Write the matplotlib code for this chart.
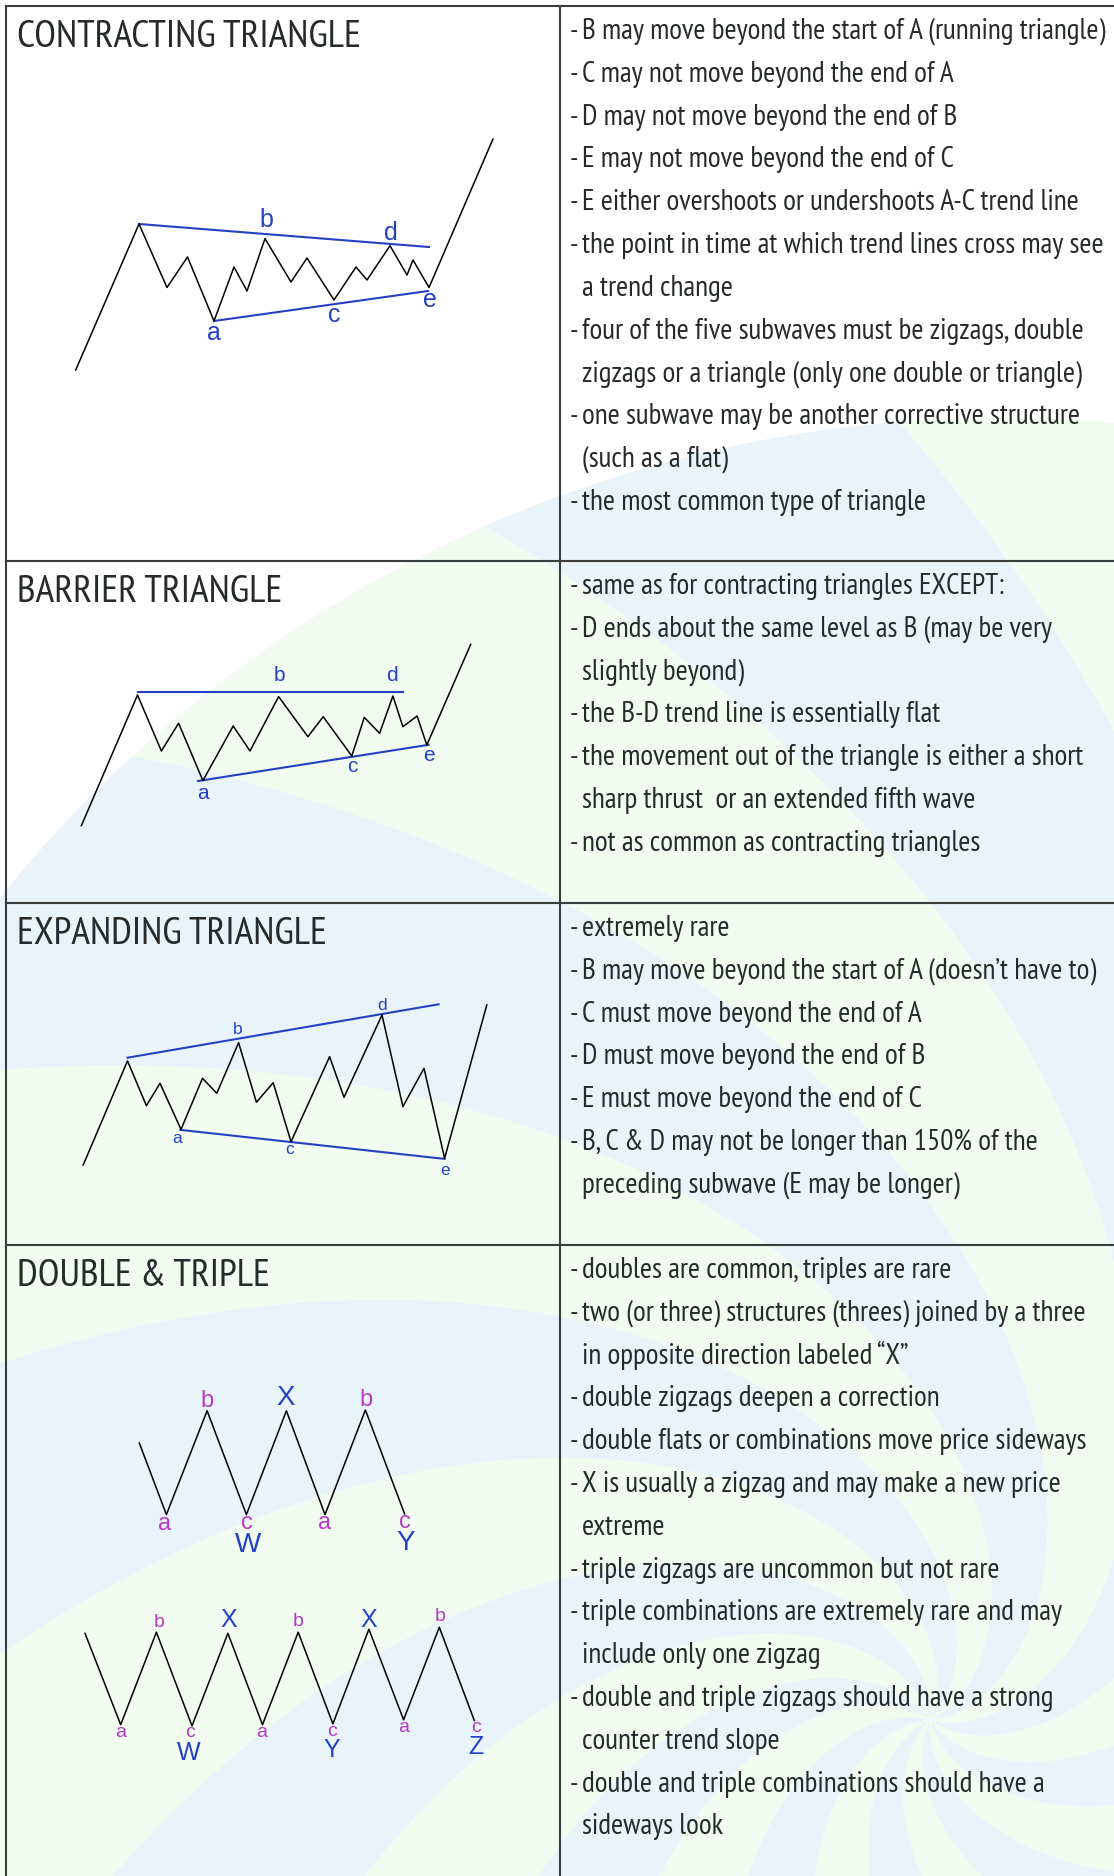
import numpy as np
import matplotlib.pyplot as plt
import matplotlib.font_manager as fm
from matplotlib.patches import Polygon, Circle, Rectangle

W, H = 1114, 1876

# ---------------- data ----------------
titles = ["CONTRACTING TRIANGLE", "BARRIER TRIANGLE", "EXPANDING TRIANGLE", "DOUBLE & TRIPLE"]

notes_contracting = [
    "B may move beyond the start of A (running triangle)",
    "C may not move beyond the end of A",
    "D may not move beyond the end of B",
    "E may not move beyond the end of C",
    "E either overshoots or undershoots A-C trend line",
    "the point in time at which trend lines cross may see\na trend change",
    "four of the five subwaves must be zigzags, double\nzigzags or a triangle (only one double or triangle)",
    "one subwave may be another corrective structure\n(such as a flat)",
    "the most common type of triangle",
]
notes_barrier = [
    "same as for contracting triangles EXCEPT:",
    "D ends about the same level as B (may be very\nslightly beyond)",
    "the B-D trend line is essentially flat",
    "the movement out of the triangle is either a short\nsharp thrust  or an extended fifth wave",
    "not as common as contracting triangles",
]
notes_expanding = [
    "extremely rare",
    "B may move beyond the start of A (doesn\u2019t have to)",
    "C must move beyond the end of A",
    "D must move beyond the end of B",
    "E must move beyond the end of C",
    "B, C & D may not be longer than 150% of the\npreceding subwave (E may be longer)",
]
notes_double = [
    "doubles are common, triples are rare",
    "two (or three) structures (threes) joined by a three\nin opposite direction labeled \u201cX\u201d",
    "double zigzags deepen a correction",
    "double flats or combinations move price sideways",
    "X is usually a zigzag and may make a new price\nextreme",
    "triple zigzags are uncommon but not rare",
    "triple combinations are extremely rare and may\ninclude only one zigzag",
    "double and triple zigzags should have a strong\ncounter trend slope",
    "double and triple combinations should have a\nsideways look",
]

# contracting triangle wave (pixel units of the sheet)
ct_x = [75.7, 139, 167, 187.5, 214, 234, 247, 265, 291, 307, 334, 356, 367, 390, 407, 413, 429, 493]
ct_y = [370, 224, 287.5, 257, 321, 267, 291, 238.6, 282, 258, 300, 267, 280, 245.7, 275, 260, 287.5, 139]
ct_upper_x, ct_upper_y = [139, 429], [224, 247]
ct_lower_x, ct_lower_y = [214, 428], [321, 291]
ct_lab = ["a", "b", "c", "d", "e"]
ct_lab_x = [214, 266, 334, 391, 430]
ct_lab_y = [333, 220, 315, 233, 300]

# barrier triangle wave
bt_x = [81.4, 137.5, 161.4, 178.6, 202.9, 233.2, 250, 278.6, 307.9, 323.2, 351.8, 364.3, 379.6, 392.9, 402.9, 417.1, 426.8, 470.7]
bt_y = [825.6, 695.0, 751.0, 723.3, 780.6, 726.0, 751.0, 696.6, 736.7, 716.7, 756.0, 717.4, 733.3, 696.0, 726.7, 716.0, 745.0, 644.4]
bt_upper_x, bt_upper_y = [137.5, 402.9], [692.5, 692.5]
bt_lower_x, bt_lower_y = [198, 428.6], [781, 744.8]
bt_lab = ["a", "b", "c", "d", "e"]
bt_lab_x = [202.5, 279.6, 352.5, 392, 428.6]
bt_lab_y = [793.3, 675.7, 766, 675.7, 755.1]

# expanding triangle wave
et_x = [83.2, 127.5, 146.4, 160, 181, 202.5, 216.8, 238.6, 256.4, 273.2, 291, 329.6, 344, 382, 402.9, 424, 444.6, 486.8]
et_y = [1165.0, 1060.9, 1105.7, 1083.3, 1129.4, 1078.3, 1093.3, 1042.7, 1102.3, 1082.7, 1141.7, 1056.7, 1097.3, 1015.0, 1106.6, 1068.3, 1158.3, 1004.9]
et_upper_x, et_upper_y = [127.5, 438.6], [1057.7, 1004.3]
et_lower_x, et_lower_y = [180.4, 444.6], [1129.9, 1158.9]
et_lab = ["a", "b", "c", "d", "e"]
et_lab_x = [176.8, 237.5, 290, 382, 444.6]
et_lab_y = [1138.3, 1029.1, 1150, 1005.8, 1170.1]

# double zigzag (W-X-Y)
dz_x = [139.3, 166.4, 207.1, 246.4, 286.4, 325, 365.4, 404.6]
dz_y = [1443.0, 1514.6, 1410.8, 1514.6, 1410.8, 1514.6, 1410.0, 1513.9]
dz_sub = ["a", "b", "c", "a", "b", "c"]
dz_sub_x = [164.3, 207, 247, 324.3, 366, 404.6]
dz_sub_y = [1523.9, 1401.2, 1522.6, 1522.6, 1399.9, 1521.8]
dz_main = ["W", "X", "Y"]
dz_main_x = [248, 285.7, 405.4]
dz_main_y = [1544.7, 1397.9, 1542.8]

# triple zigzag (W-X-Y-X-Z)
tz_x = [85, 120.7, 156.4, 192, 227.9, 262.5, 298.2, 332.9, 368.9, 403.6, 439.3, 474.3]
tz_y = [1633.3, 1724.7, 1632.2, 1725.9, 1633.3, 1724.7, 1632.2, 1723.9, 1629.2, 1719.8, 1627.3, 1720.5]
tz_sub = ["a", "b", "c", "a", "b", "c", "a", "b", "c"]
tz_sub_x = [120.7, 159, 190, 261.4, 298.2, 332, 403.6, 440, 476]
tz_sub_y = [1732.9, 1622.5, 1732.9, 1732.9, 1621.4, 1731.8, 1727.9, 1616.8, 1727.3]
tz_main = ["W", "X", "Y", "X", "Z"]
tz_main_x = [189, 228.6, 332, 368.6, 476]
tz_main_y = [1752.8, 1620.2, 1749.8, 1620.2, 1747.2]

# ---------------- style ----------------
TXT = "#262a2a"
GRID = "#3a3d3d"
BLUE = "#2441c4"
MAG = "#b63ac4"
BG_BLUE = "#e8f4fa"
BG_GREEN = "#f1fbf0"
ARIAL = ["Liberation Sans", "DejaVu Sans"]


def narrow_font():
    # look for a condensed sans among the installed fonts
    prefs = ["PT Sans", "Fira Sans", "Roboto", "Open Sans", "Noto Sans", "DejaVu Sans", "Liberation Sans", "Ubuntu"]
    best = None
    for f in fm.fontManager.ttflist:
        st = str(f.stretch).lower()
        name = f.name
        cond = ("condensed" in st or "narrow" in st or "Condensed" in name or "Narrow" in name
                or "condensed" in f.fname.lower() or "narrow" in f.fname.lower())
        if not cond or f.style != "normal":
            continue
        try:
            wt = int(f.weight)
        except ValueError:
            wt = {"normal": 400, "regular": 400, "book": 400}.get(str(f.weight).lower(), 700)
        if wt != 400:
            continue
        low = f.fname.lower()
        if "extra" in st or "ultra" in st or "extracondensed" in low or "semicondensed" in low or "semi" in st:
            rank2 = 1
        else:
            rank2 = 0
        rank = len(prefs)
        for i, p in enumerate(prefs):
            if name.startswith(p):
                rank = i
                break
        key = (rank, rank2, f.fname)
        if best is None or key < best[0]:
            best = (key, f.fname)
    if best is None:
        return fm.FontProperties(family="DejaVu Sans")
    return fm.FontProperties(fname=best[1])


NARROW = narrow_font()

fig = plt.figure(figsize=(W / 100, H / 100), dpi=100)
ax = fig.add_axes([0, 0, 1, 1])
ax.set_xlim(0, W)
ax.set_ylim(H, 0)
ax.axis("off")
renderer = fig.canvas.get_renderer()


def fit_size(s, target_px, max_pt):
    t = ax.text(0, 0, s, fontproperties=NARROW, fontsize=20)
    w = t.get_window_extent(renderer).width
    t.remove()
    return min(max_pt, 20 * target_px / w)


NOTE_PT = fit_size(notes_contracting[0], 521, 21.5)
TITLE_PT = fit_size(titles[0], 344, 29.5)

# background: swirl of pale blue / green arms inside a large disc
ax.add_patch(Rectangle((0, 0), W, H, color="white", zorder=0))
clip = Circle((1000, 1700), 1282, transform=ax.transData)
cx, cy, twist, r0, nsec, phase = 930, 1720, 0.9, 120, 18, 16
r = np.geomspace(1, 1600, 500)
turn = twist * np.log(1 + r / r0)
for i in range(nsec):
    t0 = np.radians(phase + 360 / nsec * i) - turn
    t1 = np.radians(phase + 360 / nsec * (i + 1)) - turn
    p0 = np.c_[cx + r * np.cos(t0), cy + r * np.sin(t0)]
    p1 = np.c_[cx + r * np.cos(t1), cy + r * np.sin(t1)]
    poly = Polygon(np.vstack([p0, p1[::-1]]), closed=True, lw=0,
                   color=BG_BLUE if i % 2 == 0 else BG_GREEN, zorder=1)
    ax.add_patch(poly)
    poly.set_clip_path(clip)

# grid
ax.plot([6, 6], [6, H], color=GRID, lw=1.5, zorder=5)
ax.plot([6, W], [6, 6], color=GRID, lw=1.5, zorder=5)
ax.plot([560, 560], [6, H], color=GRID, lw=1.5, zorder=5)
tops = [6, 561, 903, 1245]
for t in tops[1:]:
    ax.plot([6, W], [t, t], color=GRID, lw=1.5, zorder=5)

# titles and notes
all_notes = [notes_contracting, notes_barrier, notes_expanding, notes_double]
for top, title, notes in zip(tops, titles, all_notes):
    ax.text(17, top + 41, title, fontproperties=NARROW, fontsize=TITLE_PT, color=TXT,
            va="baseline", ha="left", zorder=6)
    y = top + 33
    for note in notes:
        for j, line in enumerate(note.split("\n")):
            if j == 0:
                ax.text(570, y, "-", fontproperties=NARROW, fontsize=NOTE_PT, color=TXT,
                        va="baseline", zorder=6)
            ax.text(582, y, line, fontproperties=NARROW, fontsize=NOTE_PT, color=TXT,
                    va="baseline", zorder=6)
            y += 42.8


def wave(xs, ys, ux, uy, lx, ly, labs, lbx, lby, fs):
    ax.plot(ux, uy, color=BLUE, lw=1.5, zorder=6)
    ax.plot(lx, ly, color=BLUE, lw=1.5, zorder=6)
    ax.plot(xs, ys, color="black", lw=1.1, zorder=7)
    for s, x, y in zip(labs, lbx, lby):
        ax.text(x, y, s, family=ARIAL, fontsize=fs, color=BLUE,
                ha="center", va="center", zorder=8)


wave(ct_x, ct_y, ct_upper_x, ct_upper_y, ct_lower_x, ct_lower_y, ct_lab, ct_lab_x, ct_lab_y, 18)
wave(bt_x, bt_y, bt_upper_x, bt_upper_y, bt_lower_x, bt_lower_y, bt_lab, bt_lab_x, bt_lab_y, 15)
wave(et_x, et_y, et_upper_x, et_upper_y, et_lower_x, et_lower_y, et_lab, et_lab_x, et_lab_y, 12.5)

ax.plot(dz_x, dz_y, color="black", lw=1.1, zorder=7)
for s, x, y in zip(dz_sub, dz_sub_x, dz_sub_y):
    ax.text(x, y, s, family=ARIAL, fontsize=17, color=MAG, ha="center", va="center", zorder=8)
for s, x, y in zip(dz_main, dz_main_x, dz_main_y):
    ax.text(x, y, s, family=ARIAL, fontsize=20, color=BLUE, ha="center", va="center", zorder=8)

ax.plot(tz_x, tz_y, color="black", lw=1.1, zorder=7)
for s, x, y in zip(tz_sub, tz_sub_x, tz_sub_y):
    ax.text(x, y, s, family=ARIAL, fontsize=14, color=MAG, ha="center", va="center", zorder=8)
for s, x, y in zip(tz_main, tz_main_x, tz_main_y):
    ax.text(x, y, s, family=ARIAL, fontsize=18, color=BLUE, ha="center", va="center", zorder=8)

fig.savefig("out.png", dpi=100)
